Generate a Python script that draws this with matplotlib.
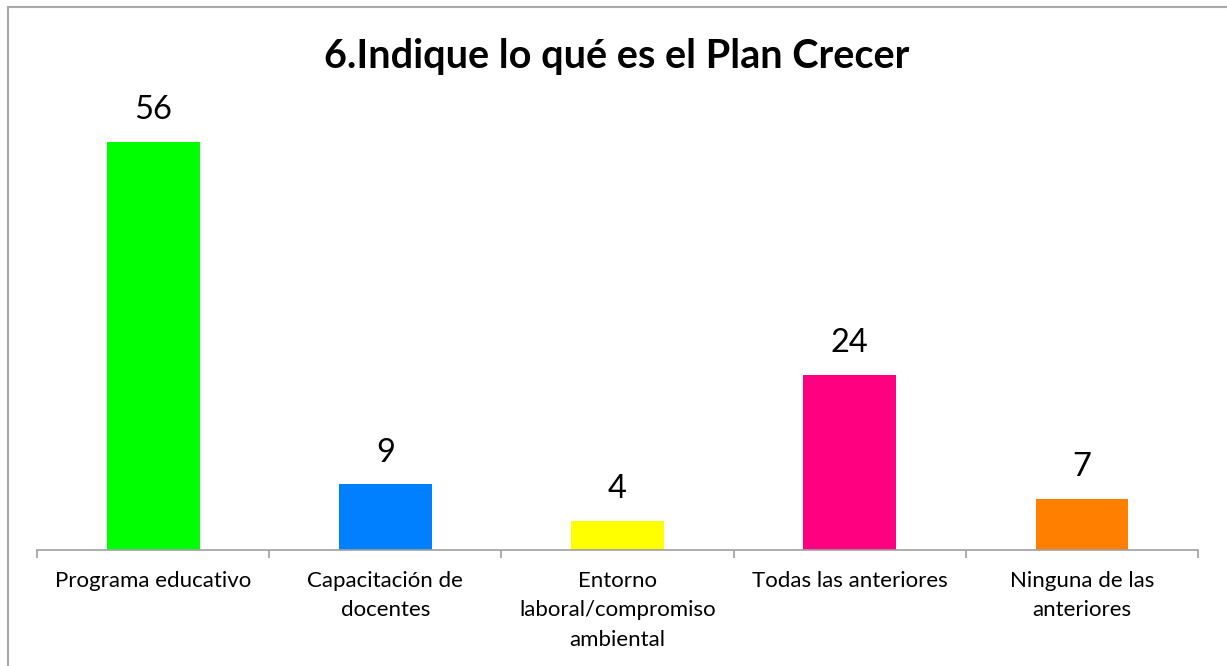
import matplotlib
matplotlib.use("Agg")
import matplotlib.pyplot as plt
from matplotlib.patches import Rectangle

categories = ["Programa educativo", "Capacitación de\ndocentes",
              "Entorno\nlaboral/compromiso\nambiental", "Todas las anteriores",
              "Ninguna de las\nanteriores"]
values = [56, 9, 4, 24, 7]
colors = ["#00FF00", "#0080FF", "#FFFF00", "#FF0080", "#FF8000"]

plt.rcParams["font.family"] = ["Lato", "DejaVu Sans"]

fig = plt.figure(figsize=(12.27, 6.66), dpi=100)
ax = fig.add_axes([0.0302, 0.1742, 0.9462, 0.656])

x = range(len(values))
ax.bar(x, values, width=0.4, color=colors, zorder=2)
for xi, v in zip(x, values):
    ax.text(xi, v + 2.3, str(v), ha="center", va="bottom", fontsize=23.5, color="black")

ax.set_xlim(-0.5, len(values) - 0.5)
ax.set_ylim(0, 60)
ax.set_yticks([])
for s in ["top", "right", "left"]:
    ax.spines[s].set_visible(False)
ax.spines["bottom"].set_color("#A0A0A0")
ax.spines["bottom"].set_linewidth(1.2)

# category boundaries as ticks
ax.set_xticks([i - 0.5 for i in range(len(values) + 1)], minor=False)
ax.set_xticklabels([])
ax.tick_params(axis="x", which="major", length=6, color="#A0A0A0", width=1.2)
ax.set_xticks(list(x), minor=True)
ax.set_xticklabels(categories, minor=True, fontsize=16, linespacing=1.6)
ax.tick_params(axis="x", which="minor", length=0, pad=15)

fig.text(0.503, 0.915, "6.Indique lo qué es el Plan Crecer", ha="center", va="center",
         fontsize=28.5, fontweight="bold")

fig.patches.append(Rectangle((8 / 1227, -0.1), 1.2, 1 - 7 / 666 + 0.1,
                             transform=fig.transFigure, fill=False,
                             edgecolor="#A8A8A8", linewidth=1.5))

fig.savefig("out.png", dpi=100)
